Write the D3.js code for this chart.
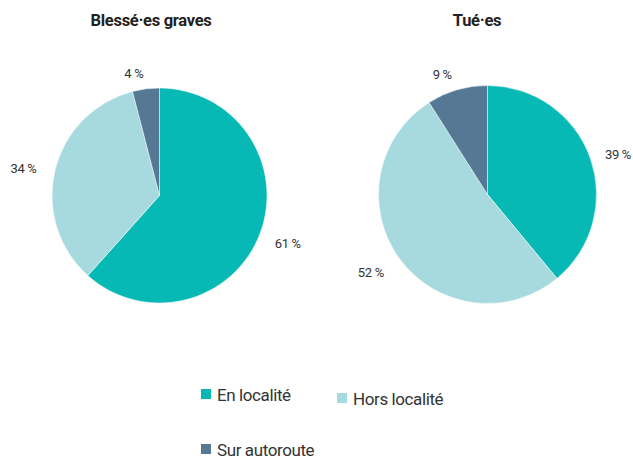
<!DOCTYPE html>
<html><head><meta charset="utf-8">
<script src="https://cdn.jsdelivr.net/npm/d3@7"></script>
<style>body{margin:0;background:#fff}svg{display:block}</style>
</head><body>
<svg id="c" width="633" height="459"></svg>
<script>
const categories = ["En localité", "Hors localité", "Sur autoroute"];
const colors = ["#07B9B5", "#A6DADF", "#557895"];
const titles = ["Blessé·es graves", "Tué·es"];
const blessesValues = [61, 34, 4];
const tuesValues = [39, 52, 9];

const svg = d3.select("#c");
const charts = [
  {title: titles[0], values: blessesValues, cx: 159.5, cy: 195.5, r: 107.5, tx: 151},
  {title: titles[1], values: tuesValues, cx: 487.5, cy: 194.5, r: 109, tx: 477}
];
const pie = d3.pie().sort(null).value(d => d);
charts.forEach(ch => {
  svg.append("text").attr("x", ch.tx).attr("y", 26).attr("text-anchor", "middle")
    .attr("font-family", "Roboto, sans-serif").attr("font-weight", 700).attr("font-size", 16.5)
    .attr("letter-spacing", -0.3).attr("fill", "#222").text(ch.title);
  const g = svg.append("g").attr("transform", `translate(${ch.cx},${ch.cy})`);
  const arcs = pie(ch.values);
  const arc = d3.arc().innerRadius(0).outerRadius(ch.r);
  g.selectAll("path").data(arcs).join("path").attr("d", arc)
    .attr("fill", (d, i) => colors[i]).attr("stroke", "#fff").attr("stroke-width", 0.5);
  const lr = ch.r + 19;
  g.selectAll("text.lbl").data(arcs).join("text").attr("class", "lbl")
    .each(function(d) {
      const a = (d.startAngle + d.endAngle) / 2;
      const x = lr * Math.sin(a), y = -lr * Math.cos(a);
      d3.select(this).attr("x", x + (Math.sin(a) >= 0 ? -3 : 0)).attr("y", y + 3).attr("dy", "0.35em")
        .attr("text-anchor", Math.sin(a) >= 0 ? "start" : "end");
    })
    .attr("font-family", "Roboto, sans-serif").attr("font-size", 13).attr("fill", "#333")
    .attr("letter-spacing", -0.3)
    .text(d => d.data + " %");
});
const legendPos = [[201, 389], [337, 393], [201, 444]];
categories.forEach((c, i) => {
  const [x, y] = legendPos[i];
  svg.append("rect").attr("x", x).attr("y", y).attr("width", 10).attr("height", 10).attr("fill", colors[i]);
  svg.append("text").attr("x", x + 16).attr("y", y + 12).attr("font-family", "Roboto, sans-serif")
    .attr("font-size", 17).attr("letter-spacing", -0.4).attr("fill", "#333").text(c);
});
</script>
</body></html>
